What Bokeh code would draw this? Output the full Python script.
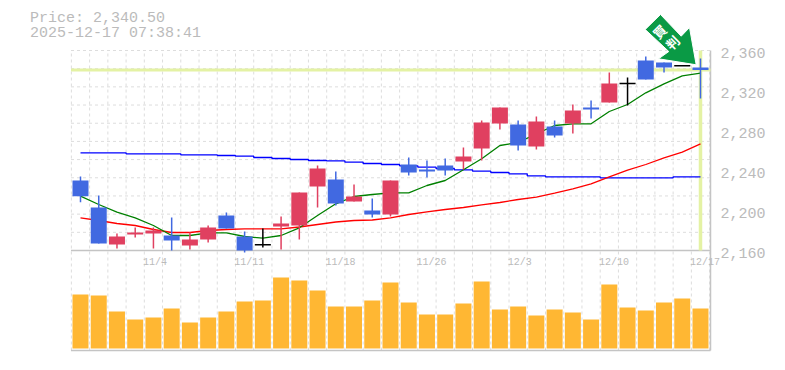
from bokeh.plotting import figure
from bokeh.embed import file_html
from bokeh.resources import INLINE
from bokeh.models import Range1d
from bokeh.core.properties import value

title_lines = ["Price: 2,340.50", "2025-12-17 07:38:41"]
current_price = 2340.5

price_ticks = [2360, 2320, 2280, 2240, 2200, 2160]
price_labels = ["2,360", "2,320", "2,280", "2,240", "2,200", "2,160"]
date_idx = [4, 9, 14, 19, 24, 29, 34]
date_labels = ["11/4", "11/11", "11/18", "11/26", "12/3", "12/10", "12/17"]

opens = [2230, 2203, 2166, 2176, 2177, 2175, 2165, 2171, 2195, 2174, 2165.7, 2184, 2185, 2224, 2231, 2209, 2200, 2196,
         2246, 2241, 2245, 2249, 2262, 2287, 2286, 2264, 2284, 2287, 2303, 2308, 2327, 2350, 2348, 2344.7, 2343]
closes = [2214.3, 2167, 2174, 2178, 2180, 2170, 2171, 2183, 2182, 2160, 2165.7, 2187, 2218, 2242, 2207, 2214, 2196, 2230,
          2238, 2239, 2240, 2254, 2288, 2303, 2265, 2289, 2275, 2300, 2301, 2327, 2327, 2331, 2343, 2344.7, 2340.5]
highs = [2234, 2215, 2177, 2183, 2183, 2193, 2178, 2185, 2198, 2179, 2182, 2194, 2218, 2245, 2239, 2226, 2212, 2230,
         2253, 2250, 2252, 2263, 2290, 2303, 2290, 2294, 2290, 2306, 2310, 2338, 2333, 2354, 2348, 2344.7, 2352]
lows = [2208.3, 2167, 2162, 2173, 2162, 2160, 2161, 2168, 2182, 2158, 2163, 2161, 2171, 2203, 2205, 2209, 2193, 2194,
        2235, 2233, 2235, 2241, 2250, 2281, 2260, 2261, 2273, 2277, 2292, 2308, 2305, 2331, 2338, 2344.7, 2312]
ma_short = [2214.3, 2206, 2198.3, 2192.7, 2185, 2175, 2175, 2177.7, 2177.7, 2174, 2172.3, 2175, 2182.7, 2195, 2206.7,
            2214, 2216, 2217.7, 2217.7, 2225, 2230, 2240.7, 2251.7, 2265, 2268, 2276.7, 2285, 2286.7, 2286.7, 2299,
            2306, 2317.7, 2326.7, 2334.7, 2337.3]
ma_mid = [2192.7, 2190, 2187, 2185, 2181, 2178, 2178, 2180, 2181, 2181.7, 2181.7, 2181.7, 2183.5, 2186, 2188.5, 2190,
          2190.5, 2192.7, 2196, 2198.7, 2201, 2203, 2205.7, 2208, 2211, 2213.3, 2217.3, 2221.7, 2226.7, 2233.7, 2240.3,
          2246, 2252.7, 2258.3, 2266.7]
ma_long = [2257.7, 2257.7, 2257.7, 2256.7, 2256.7, 2256.7, 2255.7, 2255.7, 2255, 2254.3, 2253, 2252, 2251, 2250, 2249.7,
           2248.3, 2247, 2246, 2244.7, 2243.3, 2242, 2240.7, 2239.3, 2238, 2236.7, 2234.7, 2233.7, 2233.7, 2233.7,
           2232.7, 2232.7, 2232.7, 2232.7, 2233.7, 2233.7]
volume = [54, 53, 37, 29, 31, 40, 26, 31, 37, 47, 48, 71, 68, 58, 42, 42, 48, 66,
          46, 34, 34, 45, 67, 39, 42, 33, 39, 36, 29, 64, 41, 38, 46, 50, 40]

arrow_text = ["買", "判"]

BLUE = "#4169e1"
RED = "#e04060"
GREY = "#bbbbbb"
GRID = "#dddddd"
FONT = value("Liberation Mono")
W, H = 780, 365
STEP = 18.235

def ax(px):
    return (px - 80) / STEP
def ay(py):
    return 2410 - py

n = len(opens)
xs = list(range(n))
XL, XR = ax(70.5), ax(710)
YT, YM, YB = ay(50), ay(250), ay(350)

# The frame fills the whole canvas; 1 yen = 1 px vertically, one session = STEP px.
p = figure(width=W, height=H, output_backend="svg", toolbar_location=None,
           x_range=Range1d(ax(0), ax(W)), y_range=Range1d(ay(H), ay(0)),
           min_border=0, x_axis_location=None, y_axis_location=None, outline_line_color=None,
           background_fill_color="white", border_fill_color="white")
p.grid.visible = False
# volume axis: bars stand on y=348 and one unit is one px
p.extra_y_ranges = {"vol": Range1d(348 - H, 348)}

grid_x = [i - 0.5 for i in range(n + 1)]
p.segment(x0=grid_x, x1=grid_x, y0=[YB] * len(grid_x), y1=[YT] * len(grid_x),
          line_color=GRID, line_dash="3 3", line_width=1)
grid_y = [YM + (YT - YM) * k / 11 for k in range(12)]
p.segment(x0=[XL] * 12, x1=[XR] * 12, y0=grid_y, y1=grid_y, line_color=GRID, line_dash="3 3", line_width=1)

p.segment(x0=[XL, XL], x1=[XR, XR], y0=[YM, YB], y1=[YM, YB], line_color="#c4c4c4", line_width=1.5)
p.segment(x0=[XR], x1=[XR], y0=[YB], y1=[YT], line_color="#c4c4c4", line_width=1.5)

p.segment(x0=[XL], x1=[XR], y0=[current_price], y1=[current_price], line_color="#e4f2a4", line_width=3)
p.segment(x0=[n - 1], x1=[n - 1], y0=[YM], y1=[YT], line_color="#e4f2a4", line_width=3.5)

p.vbar(x=xs, top=volume, bottom=0, width=16 / STEP, y_range_name="vol", fill_color="#ffb733", line_color=None)

p.step(xs, ma_long, line_color="#0000ff", line_width=1.3, mode="center")
p.line(xs, ma_mid, line_color="#ff0000", line_width=1.3)
p.line(xs, ma_short, line_color="#008000", line_width=1.3)

colors = [RED if c > o else (BLUE if c < o else "black") for o, c in zip(opens, closes)]
p.segment(x0=xs, x1=xs, y0=lows, y1=highs, line_color=colors, line_width=1.5)
tops = [max(o, c) for o, c in zip(opens, closes)]
bots = [min(o, c) for o, c in zip(opens, closes)]
keep = [i for i in xs if opens[i] != closes[i]]
p.vbar(x=[i for i in keep], top=[tops[i] for i in keep], bottom=[bots[i] for i in keep], width=16 / STEP,
       fill_color=[colors[i] for i in keep], line_color=None)
doji = [i for i in xs if opens[i] == closes[i]]
p.segment(x0=[i - 0.44 for i in doji], x1=[i + 0.44 for i in doji], y0=[opens[i] for i in doji],
          y1=[opens[i] for i in doji], line_color="black", line_width=1.5)

# header
p.text(x=[ax(29.5)] * 2, y=[ay(18), ay(33)], text=title_lines, text_font=FONT, text_font_size="15px",
       text_color=GREY, text_baseline="middle", text_align="left")
# price labels sit under their tick level
p.text(x=[ax(720)] * len(price_ticks), y=price_ticks, y_offset=2, text=price_labels, text_font=FONT,
       text_font_size="15px", text_color=GREY, text_baseline="middle", text_align="left")
# dates
p.text(x=date_idx, y=[ay(262)] * len(date_idx), x_offset=-10.4, text=date_labels, text_font=FONT,
       text_font_size="10px", text_color=GREY, text_baseline="middle", text_align="left")

# arrow marker
arrow_px = [(660, 14), (644.7, 29), (668.3, 51), (658, 58.3), (695.7, 64.3), (689, 27), (680.7, 35.7)]
p.patch([ax(a) for a, b in arrow_px], [ay(b) for a, b in arrow_px], fill_color="#0a9a45", line_color="white",
        line_width=1)
p.text(x=[ax(659), ax(672)], y=[ay(31), ay(42)], text=arrow_text, text_font=value("Noto Sans CJK JP"),
       text_font_size="13px", text_font_style="bold", text_color="white", text_align="center",
       text_baseline="middle", angle=45, angle_units="deg")

open("out.html", "w").write(file_html(p, INLINE))
